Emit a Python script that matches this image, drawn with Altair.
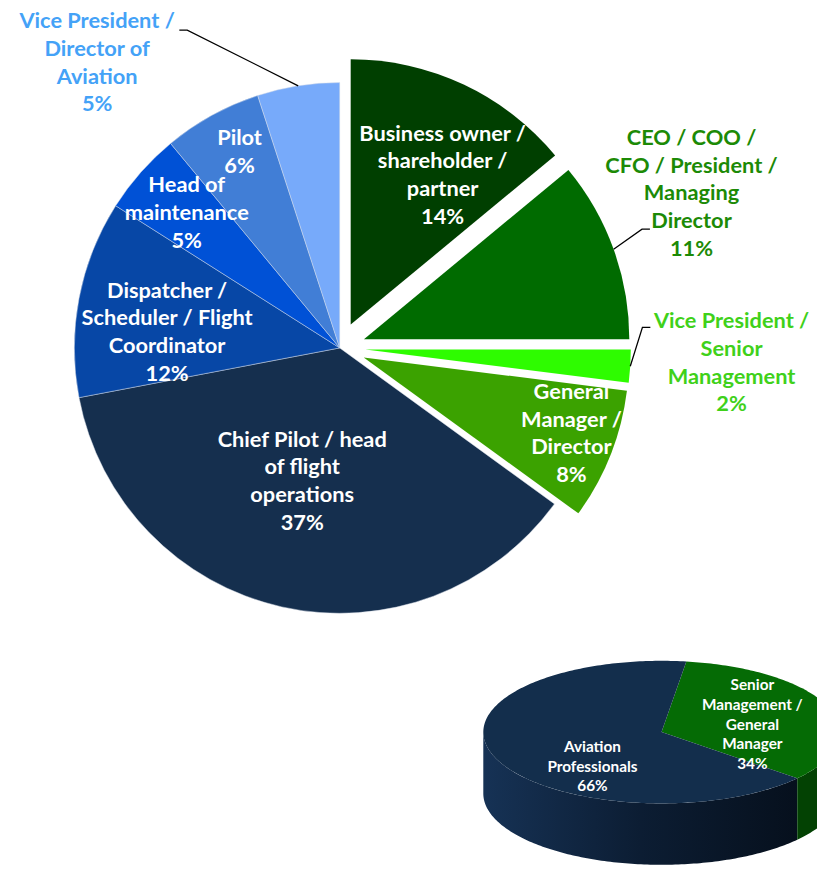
import math
import altair as alt
import pandas as pd

# ---------------- data ----------------
main_categories = [
    "Business owner / shareholder / partner",
    "CEO / COO / CFO / President / Managing Director",
    "Vice President / Senior Management",
    "General Manager / Director",
    "Chief Pilot / head of flight operations",
    "Dispatcher / Scheduler / Flight Coordinator",
    "Head of maintenance",
    "Pilot",
    "Vice President / Director of Aviation",
]
main_label_lines = [
    ["Business owner /", "shareholder /", "partner"],
    ["CEO / COO /", "CFO / President /", "Managing", "Director"],
    ["Vice President /", "Senior", "Management"],
    ["General", "Manager /", "Director"],
    ["Chief Pilot / head", "of flight", "operations"],
    ["Dispatcher /", "Scheduler / Flight", "Coordinator"],
    ["Head of", "maintenance"],
    ["Pilot"],
    ["Vice President /", "Director of", "Aviation"],
]
main_values = [14, 11, 2, 8, 37, 12, 5, 6, 5]

small_categories = ["Senior Management / General Manager", "Aviation Professionals"]
small_label_lines = [["Senior", "Management /", "General", "Manager"], ["Aviation", "Professionals"]]
small_values = [34, 66]

# ---------------- styles / layout ----------------
main_colors = ["#003f00", "#006b00", "#2efc00", "#3ba200", "#152f4e",
               "#0747a6", "#0051d6", "#417ed6", "#77aafa"]
label_colors = ["white", "#1c8a06", "#3fd11a", "white", "white",
                "white", "white", "white", "#44a2f7"]
small_top_colors = ["#056b05", "#132e4c"]

W, H, M = 817, 864, 8
CX, CY, R = 343 - M, 347 - M, 268
EXPLODE = [26, 26, 26, 26, 0, 0, 0, 0, 0]
LABEL_ANGLE = [30.8, 66.3, 92.2, 110.3, 195.7, 275.2, 311.4, 332.9, 319.6]
LABEL_RADIUS = [203, 388, 396, 249.5, 140, 175, 206, 222, 378]
LEADER_END = {1: (-42, 36), 2: (-82, -36), 8: (83, -33)}
ELBOW = 8
FS, LH = 22, 28

SX, SY, SRX, SRY, DEPTH = 668 - M, 735 - M, 180, 72, 62
SMALL_START = 8.0
SMALL_LABEL_ANGLE = [78.5, 218.7]
SMALL_LABEL_FRAC = [0.52, 0.62]
SFS, SLH = 15.5, 20

FONT = "Lato"

# ---------------- main pie ----------------
total = sum(main_values)
rows, lines = [], []
cum = 0
for i, (cat, v) in enumerate(zip(main_categories, main_values)):
    a0 = cum / total * 2 * math.pi
    cum += v
    a1 = cum / total * 2 * math.pi
    mid = (a0 + a1) / 2
    cx = CX + EXPLODE[i] * math.sin(mid)
    cy = CY - EXPLODE[i] * math.cos(mid)
    la = math.radians(LABEL_ANGLE[i])
    lx = CX + LABEL_RADIUS[i] * math.sin(la)
    ly = CY - LABEL_RADIUS[i] * math.cos(la)
    tl = main_label_lines[i] + [f"{v}%"]
    rows.append(dict(category=cat, value=v, t0=a0, t1=a1, cx=cx, cy=cy,
                     color=main_colors[i], lx=lx, ly=ly - (len(tl) - 1) * LH / 2,
                     label="\n".join(tl),
                     lcolor=label_colors[i], group="green" if EXPLODE[i] else "blue"))
    if i in LEADER_END:
        sx_, sy_ = cx + R * math.sin(mid), cy - R * math.cos(mid)
        ex, ey = lx + LEADER_END[i][0], ly + LEADER_END[i][1]
        bx = ex - ELBOW if ex > sx_ else ex + ELBOW
        for k, (px, py) in enumerate([(sx_, sy_), (bx, ey), (ex, ey)]):
            lines.append(dict(id=i, k=k, x=px, y=py))

main_df = pd.DataFrame(rows)
lines_df = pd.DataFrame(lines)

X = lambda f: alt.X(f, type="quantitative", scale=None, axis=None)
Y = lambda f: alt.Y(f, type="quantitative", scale=None, axis=None)

blue_arcs = alt.Chart(main_df[main_df.group == "blue"]).mark_arc(
    radius=R, stroke="#d8dee8", strokeWidth=0.6, strokeOpacity=0.8
).encode(
    x=X("cx"), y=Y("cy"),
    theta=alt.Theta("t0:Q", scale=None), theta2="t1:Q",
    color=alt.Color("color:N", scale=None),
)
green_arcs = alt.Chart(main_df[main_df.group == "green"]).mark_arc(
    radius=R, strokeWidth=0
).encode(
    x=X("cx"), y=Y("cy"),
    theta=alt.Theta("t0:Q", scale=None), theta2="t1:Q",
    color=alt.Color("color:N", scale=None),
)
main_text = alt.Chart(main_df).mark_text(
    font=FONT, fontSize=FS, fontWeight="bold", lineBreak="\n", lineHeight=LH,
    align="center", baseline="middle"
).encode(
    x=X("lx"), y=Y("ly"), text="label:N", color=alt.Color("lcolor:N", scale=None)
)
leaders = alt.Chart(lines_df).mark_line(color="black", strokeWidth=1.3).encode(
    x=X("x"), y=Y("y"), order="k:Q", detail="id:N"
)

# ---------------- small 3D pie ----------------
def ept(deg, dy=0.0):
    t = math.radians(deg)
    return SX + SRX * math.sin(t), SY - SRY * math.cos(t) + dy

stotal = sum(small_values)
top_pts, side_pts, slabels = [], [], []
start = SMALL_START
for j, (cat, v) in enumerate(zip(small_categories, small_values)):
    a0 = start
    a1 = start + v / stotal * 360
    start = a1
    pts = [(SX, SY)]
    n = max(2, int(a1 - a0))
    for s in range(n + 1):
        pts.append(ept(a0 + (a1 - a0) * s / n))
    pts.append((SX, SY))
    for k, (px, py) in enumerate(pts):
        top_pts.append(dict(id=j, k=k, x=px, y=py, color=small_top_colors[j]))
    b0, b1 = max(a0, 90), min(a1, 270)
    if b1 > b0:
        m = max(2, int(b1 - b0))
        edge = [b0 + (b1 - b0) * s / m for s in range(m + 1)]
        poly = [ept(d) for d in edge] + [ept(d, DEPTH) for d in reversed(edge)]
        for k, (px, py) in enumerate(poly):
            side_pts.append(dict(id=j, k=k, x=px, y=py))
    la = math.radians(SMALL_LABEL_ANGLE[j])
    tl = small_label_lines[j] + [f"{v}%"]
    slabels.append(dict(
        x=SX + SMALL_LABEL_FRAC[j] * SRX * math.sin(la),
        y=SY - SMALL_LABEL_FRAC[j] * SRY * math.cos(la) - (len(tl) - 1) * SLH / 2,
        label="\n".join(tl),
    ))

top_df = pd.DataFrame(top_pts)
side_df = pd.DataFrame(side_pts)
slab_df = pd.DataFrame(slabels)

side_green = alt.Chart(side_df[side_df.id == 0]).mark_line(
    filled=True, color="#034203", strokeWidth=0, clip=True
).encode(x=X("x"), y=Y("y"), order="k:Q")
side_navy = alt.Chart(side_df[side_df.id == 1]).mark_line(
    filled=True, strokeWidth=0, clip=True,
    color=alt.Gradient(gradient="linear", x1=0, x2=1, y1=0, y2=0,
                       stops=[alt.GradientStop(color="#163255", offset=0),
                              alt.GradientStop(color="#0c1d33", offset=0.5),
                              alt.GradientStop(color="#06101d", offset=1)]),
).encode(x=X("x"), y=Y("y"), order="k:Q")
tops = alt.Chart(top_df).mark_line(filled=True, strokeWidth=0, clip=True).encode(
    x=X("x"), y=Y("y"), order="k:Q", detail="id:N",
    color=alt.Color("color:N", scale=None),
)
small_text = alt.Chart(slab_df).mark_text(
    font=FONT, fontSize=SFS, fontWeight="bold", lineBreak="\n", lineHeight=SLH,
    align="center", baseline="middle", color="white"
).encode(x=X("x"), y=Y("y"), text="label:N")

chart = alt.layer(
    side_navy, side_green, tops, small_text,
    blue_arcs, green_arcs, leaders, main_text
).properties(
    width=W, height=H, padding=0,
    autosize=alt.AutoSizeParams(type="none"),
).configure_view(stroke=None)

chart.save("out.html", embed_options={"renderer": "svg", "actions": False})
